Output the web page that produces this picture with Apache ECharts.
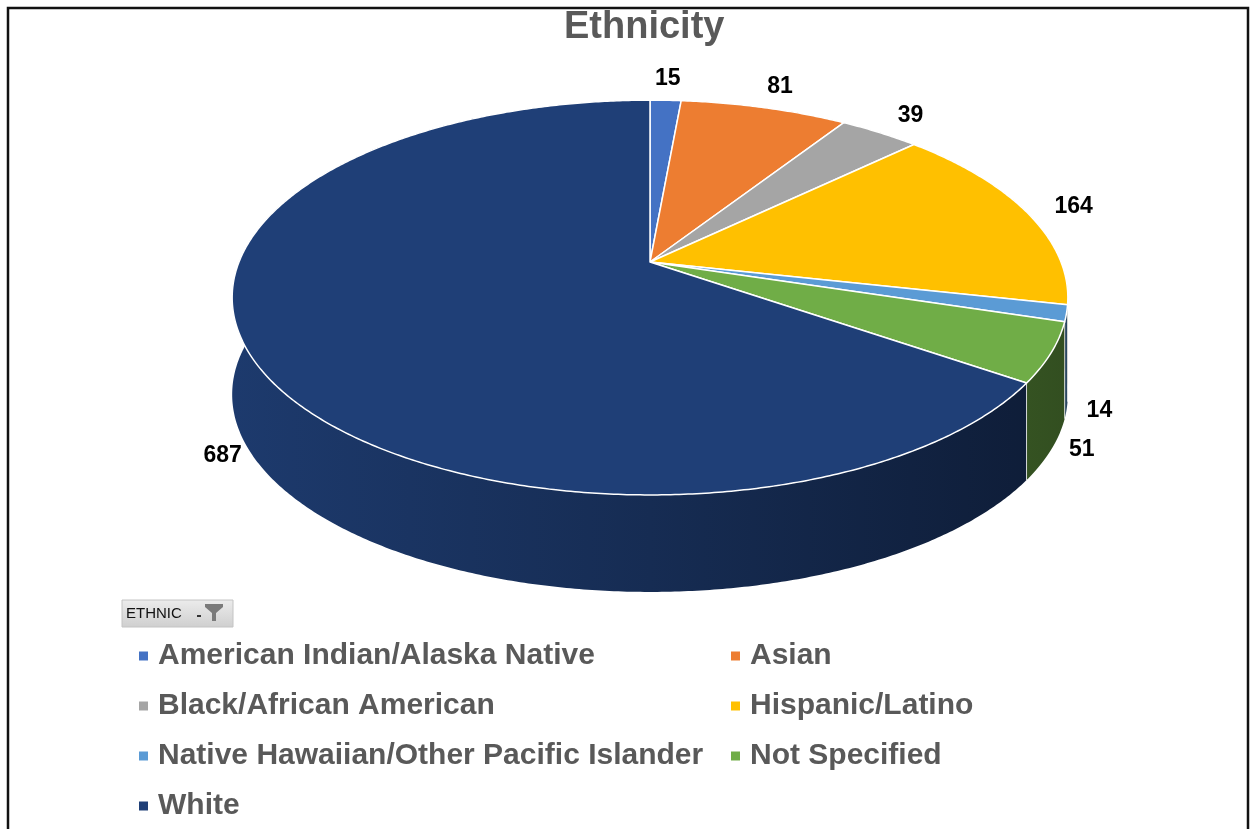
<!DOCTYPE html>
<html>
<head>
<meta charset="utf-8">
<script src="https://cdn.jsdelivr.net/npm/echarts@6/dist/echarts.min.js"></script>
<style>
html,body{margin:0;padding:0;background:#fff;}
#chart{width:1254px;height:829px;}
</style>
</head>
<body>
<div id="chart"></div>
<script>
// ---- data ----
const categories = [
  'American Indian/Alaska Native',
  'Asian',
  'Black/African American',
  'Hispanic/Latino',
  'Native Hawaiian/Other Pacific Islander',
  'Not Specified',
  'White'
];
const values = [15, 81, 39, 164, 14, 51, 687];
const topColors = ['#4472c4', '#ed7d31', '#a5a5a5', '#ffc000', '#5b9bd5', '#70ad47', '#1f3f77'];
const titleText = 'Ethnicity';
const filterLabel = 'ETHNIC';

// ---- geometry of the tilted (3D-looking) pie ----
const CX = 650, CY = 262, RX = 411, RY = 191, P = 0.18, H = 97;
const total = values.reduce((a, b) => a + b, 0);
const startA = [], endA = [];
let acc = 0;
values.forEach(v => { startA.push(acc / total * 2 * Math.PI); acc += v; endA.push(acc / total * 2 * Math.PI); });

function proj(theta, r) {
  r = r === undefined ? 1 : r;
  const u = r * Math.sin(theta), v = -r * Math.cos(theta);
  const s = 1 / (1 - P * v);
  return [CX + RX * u * s, CY + RY * v * s];
}
function arc(a0, a1) {
  const n = Math.max(2, Math.ceil((a1 - a0) / (Math.PI / 360)));
  const pts = [];
  for (let k = 0; k <= n; k++) pts.push(proj(a0 + (a1 - a0) * k / n));
  return pts;
}
function shade(hex, f) {
  const n = parseInt(hex.slice(1), 16);
  const r = Math.round(((n >> 16) & 255) * f), g = Math.round(((n >> 8) & 255) * f), b = Math.round((n & 255) * f);
  return 'rgb(' + r + ',' + g + ',' + b + ')';
}

function renderWall(params, api) {
  const i = params.dataIndex;
  const top = arc(startA[i], endA[i]);
  const bot = top.map(p => [p[0], p[1] + H]).reverse();
  const col = topColors[i];
  const grad = new echarts.graphic.LinearGradient(CX - RX * 1.02, 0, CX + RX * 1.02, 0, [
    { offset: 0, color: shade(col, 0.92) },
    { offset: 0.5, color: shade(col, 0.7) },
    { offset: 1, color: shade(col, 0.45) }
  ], true);
  const children = [{
    type: 'polygon',
    shape: { points: top.concat(bot) },
    style: { fill: grad, stroke: null }
  }];
  const p0 = proj(startA[i]);
  if (-Math.cos(startA[i]) > 0.05) {
    children.push({
      type: 'line',
      shape: { x1: p0[0], y1: p0[1], x2: p0[0], y2: p0[1] + H },
      style: { stroke: 'rgba(255,255,255,0.75)', lineWidth: 1 }
    });
  }
  return { type: 'group', children: children };
}

function renderTop(params, api) {
  const i = params.dataIndex;
  const pts = [[CX, CY]].concat(arc(startA[i], endA[i]));
  const mid = (startA[i] + endA[i]) / 2;
  const u = Math.sin(mid), v = -Math.cos(mid);
  const edge = proj(mid);
  let lx, ly;
  if (v > 0.05) { lx = edge[0] + 34 * u; ly = edge[1] + H; }
  else { lx = edge[0] + 48 * u; ly = edge[1] + 22 * v; }
  return {
    type: 'group',
    children: [{
      type: 'polygon',
      shape: { points: pts },
      style: { fill: topColors[i], stroke: '#ffffff', lineWidth: 1.5, lineJoin: 'round' }
    }, {
      type: 'text',
      z2: 50,
      style: {
        x: lx, y: ly,
        text: String(api.value(0)),
        fill: '#000',
        font: 'bold 23px "Liberation Sans", Arial, sans-serif',
        textAlign: 'center', textVerticalAlign: 'middle'
      }
    }]
  };
}

const chart = echarts.init(document.getElementById('chart'), null, { renderer: 'canvas' });
const legendText = {
  fontSize: 30, fontWeight: 'bold', color: '#595959',
  fontFamily: '"Liberation Sans", Arial, sans-serif', lineHeight: 30, padding: [0, 0, 0, 5]
};
chart.setOption({
  animation: false,
  backgroundColor: '#ffffff',
  color: topColors,
  title: {
    text: titleText, left: 559, top: 4,
    textStyle: { fontSize: 38, fontWeight: 'bold', color: '#595959', fontFamily: '"Liberation Sans", Arial, sans-serif' }
  },
  legend: [{
    data: categories.filter((c, i) => i % 2 === 0),
    orient: 'vertical', left: 134, top: 636, itemGap: 20,
    itemWidth: 9, itemHeight: 9, icon: 'rect', selectedMode: false,
    textStyle: legendText
  }, {
    data: categories.filter((c, i) => i % 2 === 1),
    orient: 'vertical', left: 726, top: 636, itemGap: 20,
    itemWidth: 9, itemHeight: 9, icon: 'rect', selectedMode: false,
    textStyle: legendText
  }],
  graphic: [
    { type: 'rect', shape: { x: 8, y: 8, width: 1240, height: 840 }, style: { fill: null, stroke: '#111', lineWidth: 2.5 }, z: 100 },
    { type: 'rect', shape: { x: 122, y: 600, width: 111, height: 27 },
      style: { fill: new echarts.graphic.LinearGradient(0, 0, 0, 1, [{ offset: 0, color: '#ececec' }, { offset: 1, color: '#cfcfcf' }]), stroke: '#c4c4c4', lineWidth: 1 } },
    { type: 'text', style: { x: 126, y: 614, text: filterLabel, fill: '#111', font: '15px "Liberation Sans", Arial, sans-serif', textVerticalAlign: 'middle' } },
    { type: 'rect', shape: { x: 197, y: 615, width: 4, height: 2 }, style: { fill: '#333' } },
    { type: 'polygon', shape: { points: [[205, 604], [223, 604], [223, 607], [216, 613], [216, 621], [212, 621], [212, 613], [205, 607]] }, style: { fill: '#7a7a7a' } }
  ],
  series: [{
    type: 'custom', name: 'walls', coordinateSystem: 'none', z: 1, silent: true,
    renderItem: renderWall, data: values
  }, {
    type: 'custom', name: 'tops', coordinateSystem: 'none', z: 2, silent: true,
    renderItem: renderTop, data: values
  }, {
    type: 'pie', name: 'legendKeys', radius: [0, 0], center: [-100, -100], silent: true,
    label: { show: false }, labelLine: { show: false },
    data: categories.map((c, i) => ({ name: c, value: values[i] }))
  }]
});
</script>
</body>
</html>
